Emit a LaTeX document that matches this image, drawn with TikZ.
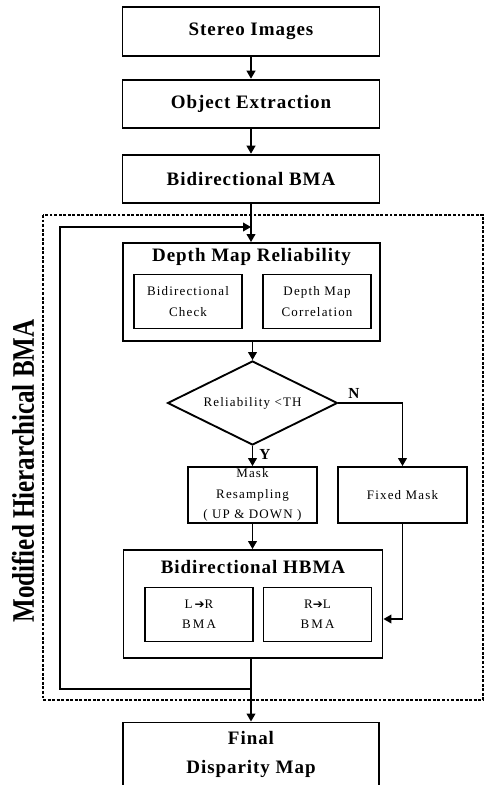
\documentclass[tikz,border=0pt]{standalone}
\usepackage{fontspec}
\setmainfont{Liberation Serif}
\newfontfamily\bigf{Liberation Serif}[LetterSpace=5]
\newfontfamily\smallf{Liberation Serif}[LetterSpace=9]
\newfontfamily\sidef{Liberation Serif}[FakeStretch=0.8]
\newfontfamily\arrf{DejaVu Sans}
\usetikzlibrary{arrows.meta,calc,shapes.geometric}
\tikzset{
  boxline/.style={draw, line width=1.4pt, inner sep=0pt, align=center},
  bigtxt/.style={font=\bigf\bfseries\fontsize{14.25}{21.75}\selectfont},
  smalltxt/.style={font=\smallf\fontsize{9.75}{15.2}\selectfont},
  mainbox/.style={boxline, bigtxt, minimum width=192.75pt, minimum height=36.5pt},
  innerbox/.style={boxline, smalltxt, minimum width=81pt, minimum height=40.5pt},
  midbox/.style={boxline, smalltxt, minimum width=96.75pt, minimum height=42pt},
  arr/.style={line width=1.3pt, -{Triangle[length=6pt,width=6.5pt]}},
  frame/.style={line width=0.8pt, dash pattern=on 2.2pt off 1.2pt},
  ynlab/.style={font=\bfseries\fontsize{11.5}{13}\selectfont, inner sep=0pt}
}
\begin{document}
\begin{tikzpicture}[x=0.75pt,y=-0.75pt]
\clip (0,0) rectangle (485,785);
\fill[white] (0,0) rectangle (485,785);

% dashed frame
\draw[frame] (43,215) rectangle (483,700);

% main column
\node[mainbox] (stereo) at (251,31.5) {Stereo Images};
\node[mainbox] (objext) at (251,104) {Object Extraction};
\node[mainbox] (bbma) at (251,179) {Bidirectional BMA};

\node[boxline, minimum width=192.75pt, minimum height=73.5pt] (dmr) at (251.5,292) {};
\node[bigtxt, inner sep=0pt] (dmrt) at (251.5,257) {Depth Map Reliability};
\node[innerbox] (bcheck) at (188,301.5) {Bidirectional\\Check};
\node[innerbox] (dmcorr) at (317,301.5) {Depth Map\\Correlation};

\node[diamond, draw, line width=1.4pt, inner sep=0pt, aspect=2,
      minimum width=127.5pt, minimum height=63pt, smalltxt] (dec) at (252.5,403) {Reliability <TH};

\node[midbox] (mask) at (252.5,495) {Mask\\Resampling\\( UP \& DOWN )};
\node[midbox] (fixed) at (402.5,495) {Fixed Mask};

\node[boxline, minimum width=194.25pt, minimum height=81pt] (hbma) at (253,604) {};
\node[bigtxt, inner sep=0pt] (hbmat) at (253,567) {Bidirectional HBMA};
\node[innerbox] (lr) at (199,614.5) {L\,{\arrf\fontsize{9}{10}\selectfont\raisebox{0.3pt}{➔}}R\\B\,M\,A};
\node[innerbox] (rl) at (317.5,614.5) {R{\arrf\fontsize{9}{10}\selectfont\raisebox{0.3pt}{➔}}L\\B\,M\,A};

\node[boxline, bigtxt, minimum width=192pt, minimum height=48pt] (final) at (251,754.5) {Final\\Disparity Map};

% side label
\node[rotate=90, inner sep=0pt] (side) at (23,471)
  {\sidef\bfseries\fontsize{23.5}{26}\selectfont Modified Hierarchical BMA};

% Y / N labels
\node[ynlab] (nlab) at (354,393) {N};
\node[ynlab] (ylab) at (265,454) {Y};

% connectors
\draw[arr] (stereo) -- (objext);
\draw[arr] (objext) -- (bbma);
\draw[arr] (bbma.south) -- (bbma.south |- dmr.north);
\draw[arr] (dmr.south -| dec.north) -- (dec.north);
\draw[arr] (dec.south) -- (dec.south |- mask.north);
\draw[arr] (mask.south) -- (mask.south |- hbma.north);
\draw[arr] (dec.east) -| (fixed.north);
\coordinate (rin) at ($(hbma.east)+(0,15)$);
\draw[arr] (fixed.south) |- (rin);
\draw[arr] (hbma.south -| final.north) -- (final.north);

% feedback loop
\coordinate (fbA) at (251,689);
\coordinate (fbB) at (251,227);
\coordinate (loopx) at (60,0);
\draw[arr] (fbA) -- (fbA -| loopx) |- (fbB);
\end{tikzpicture}
\end{document}
